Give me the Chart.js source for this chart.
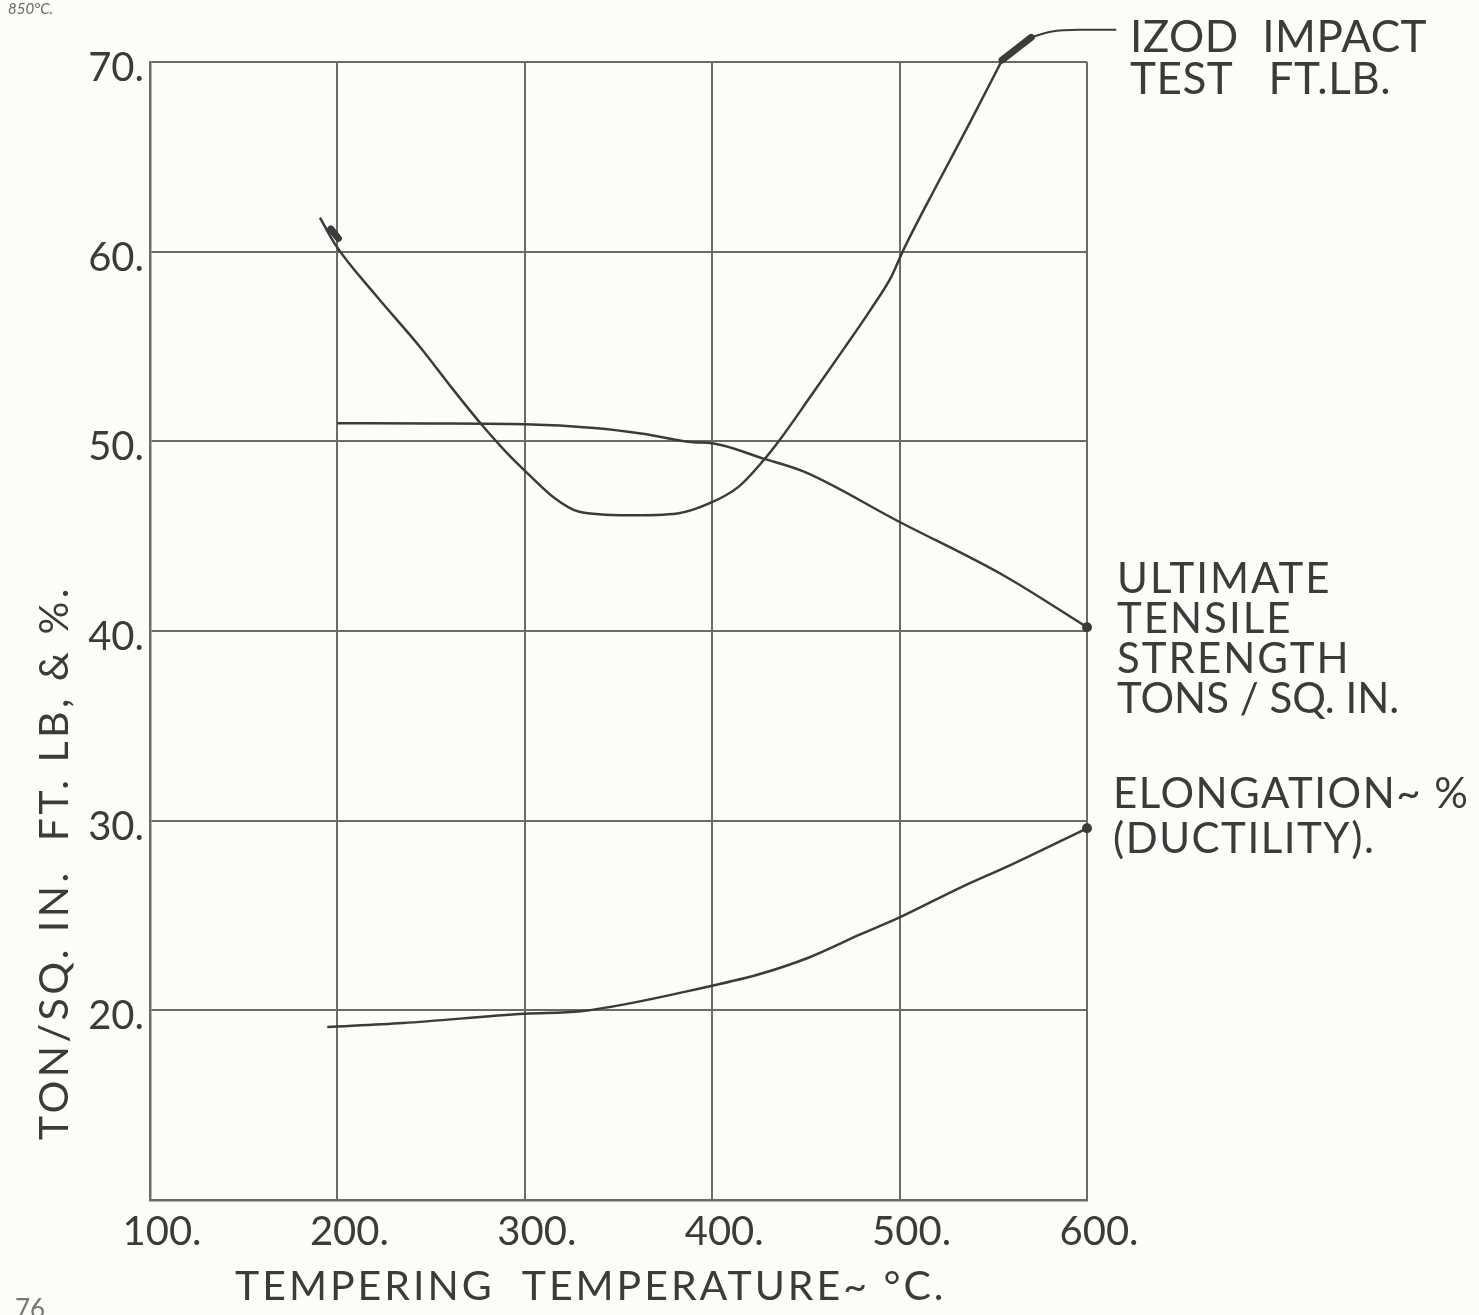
<!DOCTYPE html>
<html>
<head>
<meta charset="utf-8">
<script src="https://cdn.jsdelivr.net/npm/chart.js@4/dist/chart.umd.min.js"></script>
<style>
  html, body { margin: 0; padding: 0; background: #fcfcf9; }
  #wrap { width: 1479px; height: 1315px; position: relative; }
  canvas { display: block; }
</style>
</head>
<body>
<div id="wrap"><canvas id="c" width="1479" height="1315"></canvas></div>
<script>
// ---- data ----
const xTicks = [100, 200, 300, 400, 500, 600];
const yTicks = [10, 20, 30, 40, 50, 60, 70];

const izodTemp  = [190.7, 198.7, 220.5, 244.3, 262, 276.8, 290.8, 301.6, 316, 328.6, 355, 381.5, 399, 414, 427.4, 436.6, 452.7, 470.4, 484.9, 495.7, 501.6, 519.8, 537.5, 554.7];
const izodValue = [61.8, 60.4, 57.7, 54.95, 52.7, 50.9, 49.35, 48.3, 47.0, 46.3, 46.1, 46.2, 46.75, 47.6, 49.0, 50.15, 52.4, 54.9, 57.0, 58.7, 60.0, 63.5, 66.8, 70.1];

const utsTemp  = [200, 250, 300, 337, 363, 390, 400, 427, 449, 499, 556, 600];
const utsValue = [50.95, 50.94, 50.9, 50.7, 50.4, 49.95, 49.9, 49.1, 48.4, 45.8, 42.9, 40.2];

const elongTemp  = [194.6, 235, 300, 330, 400, 425, 452, 479, 500, 533, 560, 600];
const elongValue = [19.12, 19.33, 19.82, 19.95, 21.3, 21.9, 22.8, 24.0, 24.9, 26.5, 27.7, 29.6];

// arrow marks and leader line of the Izod label
const izodArrowTemp  = [196.5, 200.5];
const izodArrowValue = [61.2, 60.7];
const izodHeadTemp   = [554.7, 570.3];
const izodHeadValue  = [70.1, 71.3];
const leaderTemp     = [570.3, 580.7, 596, 615.6];
const leaderValue    = [71.3, 71.6, 71.7, 71.7];

function pts(xs, ys) { return xs.map((x, i) => ({ x: x, y: ys[i] })); }

const INK = '#3b3b3b';
const GRID = '#6a6a6a';
const FONT = 'Lato, "Open Sans", sans-serif';

const lastDot = (n) => (ctx) => (ctx.dataIndex === n - 1 ? 5 : 0);

const textPlugin = {
  id: 'texts',
  afterDraw(chart) {
    const ctx = chart.ctx;
    ctx.save();
    ctx.fillStyle = INK;
    ctx.textBaseline = 'alphabetic';
    ctx.textAlign = 'left';

    ctx.font = 'italic 15px ' + FONT;
    ctx.fillStyle = '#6a6a6a';
    ctx.fillText('850°C.', 8, 14);

    ctx.fillStyle = INK;
    ctx.font = '44px ' + FONT;
    ctx.letterSpacing = '0.5px';
    ctx.fillText('IZOD  IMPACT', 1130, 52);
    ctx.fillText('TEST   FT.LB.', 1130, 94);

    ctx.font = '42px ' + FONT;
    ctx.letterSpacing = '2px';
    ctx.fillText('ULTIMATE', 1117, 593);
    ctx.fillText('TENSILE', 1117, 633);
    ctx.fillText('STRENGTH', 1117, 673);
    ctx.letterSpacing = '0px';
    ctx.fillText('TONS / SQ. IN.', 1117, 713);

    ctx.letterSpacing = '1.5px';
    ctx.fillText('ELONGATION~ %', 1113, 808);
    ctx.fillText('(DUCTILITY).', 1113, 853);

    ctx.font = '41px ' + FONT;
    ctx.letterSpacing = '3px';
    ctx.fillText('TEMPERING  TEMPERATURE~ °C.', 235, 1300);

    ctx.save();
    ctx.translate(68, 1140);
    ctx.rotate(-Math.PI / 2);
    ctx.letterSpacing = '3.5px';
    ctx.fillText('TON/SQ. IN.  FT. LB, & %.', 0, 0);
    ctx.restore();

    ctx.letterSpacing = '0px';
    ctx.font = '26px ' + FONT;
    ctx.fillStyle = '#777';
    ctx.fillText('76', 15, 1318);
    ctx.restore();
  }
};

new Chart(document.getElementById('c'), {
  type: 'line',
  data: {
    datasets: [
      { label: 'Izod impact test ft.lb.', data: pts(izodTemp, izodValue), borderColor: INK, borderWidth: 2.5,
        pointRadius: 0, cubicInterpolationMode: 'monotone', fill: false },
      { label: 'Ultimate tensile strength tons/sq.in.', data: pts(utsTemp, utsValue), borderColor: INK, borderWidth: 2.5,
        pointRadius: lastDot(utsTemp.length), pointBackgroundColor: INK, pointBorderWidth: 0,
        cubicInterpolationMode: 'monotone', fill: false, clip: false },
      { label: 'Elongation %', data: pts(elongTemp, elongValue), borderColor: INK, borderWidth: 2.5,
        pointRadius: lastDot(elongTemp.length), pointBackgroundColor: INK, pointBorderWidth: 0,
        cubicInterpolationMode: 'monotone', fill: false, clip: false },
      { label: 'arrow1', data: pts(izodArrowTemp, izodArrowValue), borderColor: INK, borderWidth: 7,
        pointRadius: 0, clip: false, borderCapStyle: 'round' },
      { label: 'arrow2', data: pts(izodHeadTemp, izodHeadValue), borderColor: INK, borderWidth: 7,
        pointRadius: 0, clip: false, borderCapStyle: 'round' },
      { label: 'leader', data: pts(leaderTemp, leaderValue), borderColor: INK, borderWidth: 2,
        pointRadius: 0, clip: false, cubicInterpolationMode: 'monotone' }
    ]
  },
  options: {
    responsive: false,
    animation: false,
    events: [],
    layout: { padding: { top: 62, right: 392, left: 0, bottom: 0 } },
    plugins: { legend: { display: false }, tooltip: { enabled: false }, title: { display: false } },
    scales: {
      x: {
        type: 'linear', min: 100, max: 600,
        afterBuildTicks: (s) => { s.ticks = xTicks.map(v => ({ value: v })); },
        afterFit: (s) => { s.height = 115; },
        grid: { color: GRID, lineWidth: 2, drawTicks: false },
        border: { color: GRID, width: 2.5 },
        ticks: { color: INK, font: { family: FONT, size: 40 }, padding: 8, labelOffset: 12,
                 maxRotation: 0, autoSkip: false, callback: (v) => v + '.' }
      },
      y: {
        type: 'linear', min: 10, max: 70,
        afterBuildTicks: (s) => { s.ticks = yTicks.map(v => ({ value: v })); },
        afterFit: (s) => { s.width = 150; },
        grid: { color: GRID, lineWidth: 2, drawTicks: false },
        border: { color: GRID, width: 2.5 },
        ticks: { color: INK, font: { family: FONT, size: 40 }, padding: 6, labelOffset: 6,
                 autoSkip: false, callback: (v) => (v === 10 ? '' : v + '.') }
      }
    }
  },
  plugins: [textPlugin]
});
</script>
</body>
</html>
